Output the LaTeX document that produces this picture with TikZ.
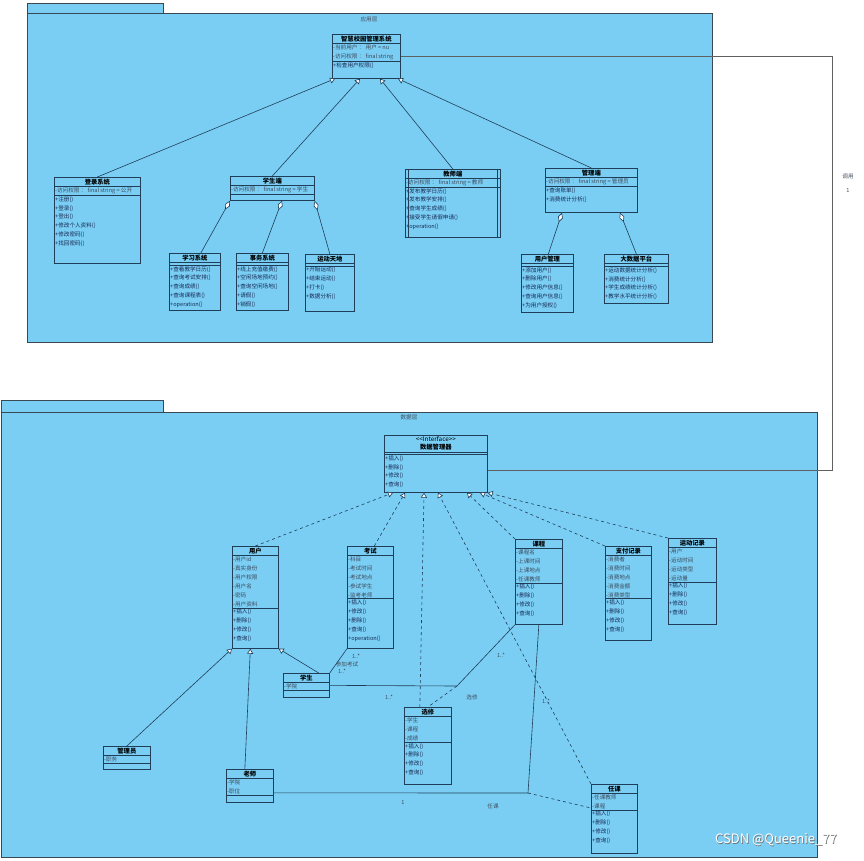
\documentclass[tikz,border=0pt]{standalone}
\usepackage{fontspec}
\setmainfont{Noto Sans CJK SC}
\usetikzlibrary{arrows.meta,calc}
\definecolor{pkgblue}{RGB}{122,206,244}
\definecolor{boxline}{RGB}{32,62,88}
\definecolor{attrgray}{RGB}{62,74,92}
\definecolor{opblue}{RGB}{24,40,82}
\definecolor{lblgray}{RGB}{66,78,92}
\definecolor{pkgline}{RGB}{58,72,84}
\begin{document}
\begin{tikzpicture}[x=1pt,y=-1pt,
  cls/.style={draw=boxline, fill=pkgblue, line width=0.7pt, inner sep=0pt, anchor=north west},
  clsname/.style={anchor=north, font=\fontsize{6.3}{7.5}\selectfont\bfseries, inner xsep=1pt, inner ysep=1.6pt, align=center},
  clsattr/.style={anchor=north west, font=\fontsize{5.6}{8.9}\selectfont, inner xsep=1pt, inner ysep=1pt, align=left, text=attrgray},
  clsop/.style={clsattr, text=opblue},
  clsline/.style={draw=boxline, line width=0.6pt},
  gen/.style={draw=boxline, line width=0.6pt, -{Triangle[open, fill=white, length=5pt, width=6pt]}},
  real/.style={gen, dashed},
  agg/.style={draw=boxline, line width=0.6pt, {Diamond[open, fill=white, length=10pt, width=5pt]}-},
  assoc/.style={draw=boxline, line width=0.6pt},
  lbl/.style={font=\fontsize{5.6}{6}\selectfont, text=lblgray, inner sep=0.5pt},
  pkgtitle/.style={font=\fontsize{5.6}{6}\selectfont, text=lblgray, inner sep=0.5pt},
  wmark/.style={font=\fontsize{13}{14}\selectfont, inner sep=0pt}]
  \def\umlclass#1#2#3#4#5#6#7#8{%
    \node[cls, minimum width=#4pt, minimum height=#5pt] (#1) at (#2,#3) {};
    \begin{scope}
      \clip (#1.north west) rectangle (#1.south east);
      \node[clsname] (#1-n) at (#1.north) {#6};
      \draw[clsline] (#1-n.south -| #1.west) -- (#1-n.south -| #1.east);
      \node[clsattr] (#1-a) at (#1-n.south -| #1.west) {#7};
      \draw[clsline] (#1-a.south -| #1.west) -- (#1-a.south -| #1.east);
      \node[clsop] (#1-o) at (#1-a.south -| #1.west) {#8};
    \end{scope}}
  \fill[white] (0,0) rectangle (864,860);
  \useasboundingbox (0,0) rectangle (864,860);
  % packages
  \filldraw[fill=pkgblue, draw=pkgline, line width=0.6pt] (27,3) rectangle (163,13);
  \filldraw[fill=pkgblue, draw=pkgline, line width=0.6pt] (27,13) rectangle (712,342);
  \node[pkgtitle] (appt) at (369,19) {应用层};
  \filldraw[fill=pkgblue, draw=pkgline, line width=0.6pt] (1,400) rectangle (163,412);
  \filldraw[fill=pkgblue, draw=pkgline, line width=0.6pt] (1,412) rectangle (817,857);
  \node[pkgtitle] (datat) at (409,417) {数据层};
  % application layer classes
  \umlclass{zhihui}{332}{34}{68}{44}{智慧校园管理系统}{-当前用户 ： 用户 = nu\\-访问权限 ： final string}{+检查用户权限()}
  \umlclass{denglu}{54}{177}{86}{86}{登录系统}{-访问权限 ： final string = 公开}{+注册()\\+登录()\\+登出()\\+修改个人资料()\\+修改密码()\\+找回密码()}
  \umlclass{xuesheng}{230}{176}{84}{24}{学生端}{-访问权限 ： final string = 学生}{}
  \umlclass{jiaoshi}{405}{169}{95}{68}{教师端}{-访问权限 ： final string = 教师}{+发布教学日历()\\+发布教学安排()\\+查询学生成绩()\\+接受学生请假申请()\\+operation()}
  \draw[clsline] ($(jiaoshi.north west)+(3,0)$) -- ($(jiaoshi.south west)+(3,0)$);
  \draw[clsline] ($(jiaoshi.north east)+(-3,0)$) -- ($(jiaoshi.south east)+(-3,0)$);
  \umlclass{guanli}{545}{168}{92}{44}{管理端}{-访问权限 ： final string = 管理员}{+查询账单()\\+消费统计分析()}
  \umlclass{xuexi}{169}{253}{51}{57}{学习系统}{}{+查看教学日历()\\+查询考试安排()\\+查询成绩()\\+查询课程表()\\+operation()}
  \umlclass{shiwu}{236}{253}{52}{57}{事务系统}{}{+线上充值缴费()\\+空闲场地预约()\\+查询空闲场地()\\+请假()\\+销假()}
  \umlclass{yundong}{305}{254}{49}{57}{运动天地}{}{+开始运动()\\+结束运动()\\+打卡()\\+数据分析()}
  \umlclass{yhgl}{521}{254}{52}{58}{用户管理}{}{+添加用户()\\+删除用户()\\+修改用户信息()\\+查询用户信息()\\+为用户授权()}
  \umlclass{dsj}{604}{254}{64}{49}{大数据平台}{}{+运动数据统计分析()\\+消费统计分析()\\+学生成绩统计分析()\\+教学水平统计分析()}
  % generalisation + aggregation (application layer)
  \draw[gen] (denglu.north) -- ($(zhihui.south west)+(3,0)$);
  \draw[gen] (xuesheng.north) -- ($(zhihui.south west)+(28,0)$);
  \draw[gen] (jiaoshi.north) -- ($(zhihui.south west)+(48,0)$);
  \draw[gen] (guanli.north) -- ($(zhihui.south west)+(66,0)$);
  \draw[agg] (xuesheng.south west) -- ($(xuexi.north)+(6,0)$);
  \draw[agg] ($(xuesheng.south west)+(52,0)$) -- (shiwu.north);
  \draw[agg] (xuesheng.south east) -- (yundong.north);
  \draw[agg] ($(guanli.south west)+(17,0)$) -- ($(yhgl.north)+(1,0)$);
  \draw[agg] ($(guanli.south west)+(75,0)$) -- (dsj.north);
  % data layer classes
  \umlclass{shuju}{384}{435}{103}{57}{{\mdseries <{}<Interface>{}>}\\数据管理器}{}{+插入()\\+删除()\\+修改()\\+查询()}
  \umlclass{yonghu}{232}{546}{46}{102}{用户}{-用户id\\-真实身份\\-用户权限\\-用户名\\-密码\\-用户资料}{+插入()\\+删除()\\+修改()\\+查询()}
  \umlclass{kaoshi}{347}{546}{46}{102}{考试}{-科目\\-考试时间\\-考试地点\\-参试学生\\-监考老师}{+插入()\\+修改()\\+删除()\\+查询()\\+operation()}
  \umlclass{kecheng}{515}{539}{47}{85}{课程}{-课程名\\-上课时间\\-上课地点\\-任课教师}{+插入()\\+删除()\\+修改()\\+查询()}
  \umlclass{zhifu}{605}{546}{46}{94}{支付记录}{-消费者\\-消费时间\\-消费地点\\-消费金额\\-消费类型}{+插入()\\+删除()\\+修改()\\+查询()}
  \umlclass{ydjl}{668}{538}{48}{86}{运动记录}{-用户\\-运动时间\\-运动类型\\-运动量}{+插入()\\+删除()\\+修改()\\+查询()}
  \umlclass{xs}{283}{673}{46}{24}{学生}{-学院}{}
  \umlclass{gly}{103}{746}{47}{23}{管理员}{-职务}{}
  \umlclass{ls}{226}{769}{47}{33}{老师}{-学院\\-职位}{}
  \umlclass{xx}{404}{707}{47}{77}{选修}{-学生\\-课程\\-成绩}{+插入()\\+删除()\\+修改()\\+查询()}
  \umlclass{rk}{591}{784}{46}{69}{任课}{-任课教师\\-课程}{+插入()\\+删除()\\+修改()\\+查询()}
  % realisation of the interface
  \draw[real] (yonghu.north) -- ($(shuju.south west)+(9,0)$);
  \draw[real] ($(kaoshi.north)+(4,0)$) -- ($(shuju.south west)+(21,0)$);
  \draw[real] ($(xx.north)+(-8,0)$) -- ($(shuju.south west)+(40,0)$);
  \draw[real] (rk.north west) -- ($(shuju.south west)+(54,0)$);
  \draw[real] (kecheng.north west) -- ($(shuju.south west)+(83,0)$);
  \draw[real] (zhifu.north west) -- ($(shuju.south west)+(96,0)$);
  \draw[real] (ydjl.north west) -- (shuju.south east);
  % user hierarchy
  \draw[gen] (gly.north) -- (yonghu.south west);
  \draw[gen] ($(ls.north)+(-5,0)$) -- ($(yonghu.south)+(-5,0)$);
  \draw[gen] ($(xs.north east)+(-11,0)$) -- (yonghu.south east);
  % associations
  \draw[assoc] (xs.north east) -- (kaoshi.south west);
  \node[lbl] (m1) at (356,656) {1..*};
  \node[lbl] (r1) at (347,664) {参加考试};
  \node[lbl] (m2) at (342,671) {1..*};
  \coordinate (xxjoin) at (457,686);
  \draw[assoc] (xs.east) -- (xxjoin) -- (kecheng.south west);
  \draw[assoc, dashed] (xxjoin) -- (xx.north);
  \node[lbl] (m3) at (389,697) {1..*};
  \node[lbl] (r2) at (472,697) {选修};
  \node[lbl] (m4) at (501,655) {1..*};
  \coordinate (rkjoin) at (528,793);
  \draw[assoc] ($(ls.east)+(0,7)$) -- (rkjoin) -- (kecheng.south);
  \draw[assoc, dashed] (rkjoin) -- ($(rk.north west)+(0,24)$);
  \node[lbl] (m5) at (403,802) {1};
  \node[lbl] (r3) at (493,806) {任课};
  \node[lbl] (m6) at (546,701) {1..*};
  % call between the layers
  \coordinate (callA) at (832,57);
  \coordinate (callB) at (832,470);
  \draw[draw=gray!75!black, line width=0.6pt] (zhihui.east) -- (zhihui.east -| callA) -- (callB) -- (callB -| shuju.east);
  \node[lbl] (callt) at (848,176) {调用};
  \node[lbl] (callm) at (848,190) {1};
  % watermark
  \node[wmark, text=black!55] (wm-s) at (776.7,840.7) {CSDN @Queenie\_77};
  \node[wmark, text=white] (wm) at (776,840) {CSDN @Queenie\_77};
\end{tikzpicture}
\end{document}
